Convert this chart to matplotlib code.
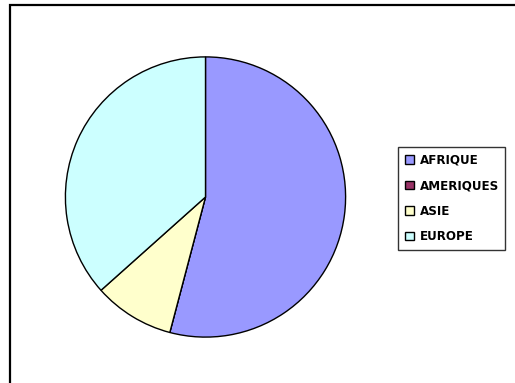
import matplotlib
matplotlib.use("Agg")
import matplotlib.pyplot as plt
from matplotlib.patches import Rectangle

# Share by region
regions = ["AFRIQUE", "AMERIQUES", "ASIE", "EUROPE"]
shares = [54.1, 0.0, 9.3, 36.6]
colors = ["#9999FF", "#993366", "#FFFFCC", "#CCFFFF"]

W, H = 515, 383
fig = plt.figure(figsize=(W / 100, H / 100), dpi=100)
fig.patch.set_facecolor("white")

# Chart area border (runs off the right and bottom edges)
fig.add_artist(Rectangle((10 / W, -0.05), 1.2, 1 - 5 / H + 0.05,
                         transform=fig.transFigure, fill=False,
                         edgecolor="black", linewidth=1.6))

# Pie placement
cx, cy, r = 205.5, 197.0, 141.5
ax = fig.add_axes([(cx - r) / W, (H - cy - r) / H, 2 * r / W, 2 * r / H])
wedges, _ = ax.pie(shares, colors=colors, startangle=90, counterclock=False,
                   radius=1.0,
                   wedgeprops=dict(edgecolor="black", linewidth=1.0))
ax.set_xlim(-1.01, 1.01)
ax.set_ylim(-1.01, 1.01)
ax.set_aspect("auto")
ax.axis("off")

leg = fig.legend(wedges, regions, loc="upper left",
                 bbox_to_anchor=(398 / W, 1 - 147 / H),
                 borderaxespad=0, frameon=True, fancybox=False, shadow=False,
                 prop=dict(family="DejaVu Sans", size=8.6, weight="bold"),
                 handlelength=0.75, handleheight=0.75, handletextpad=0.5,
                 labelspacing=1.05, borderpad=0.55)
leg.get_frame().set_edgecolor("black")
leg.get_frame().set_linewidth(1.0)

fig.savefig("out.png", dpi=100)
